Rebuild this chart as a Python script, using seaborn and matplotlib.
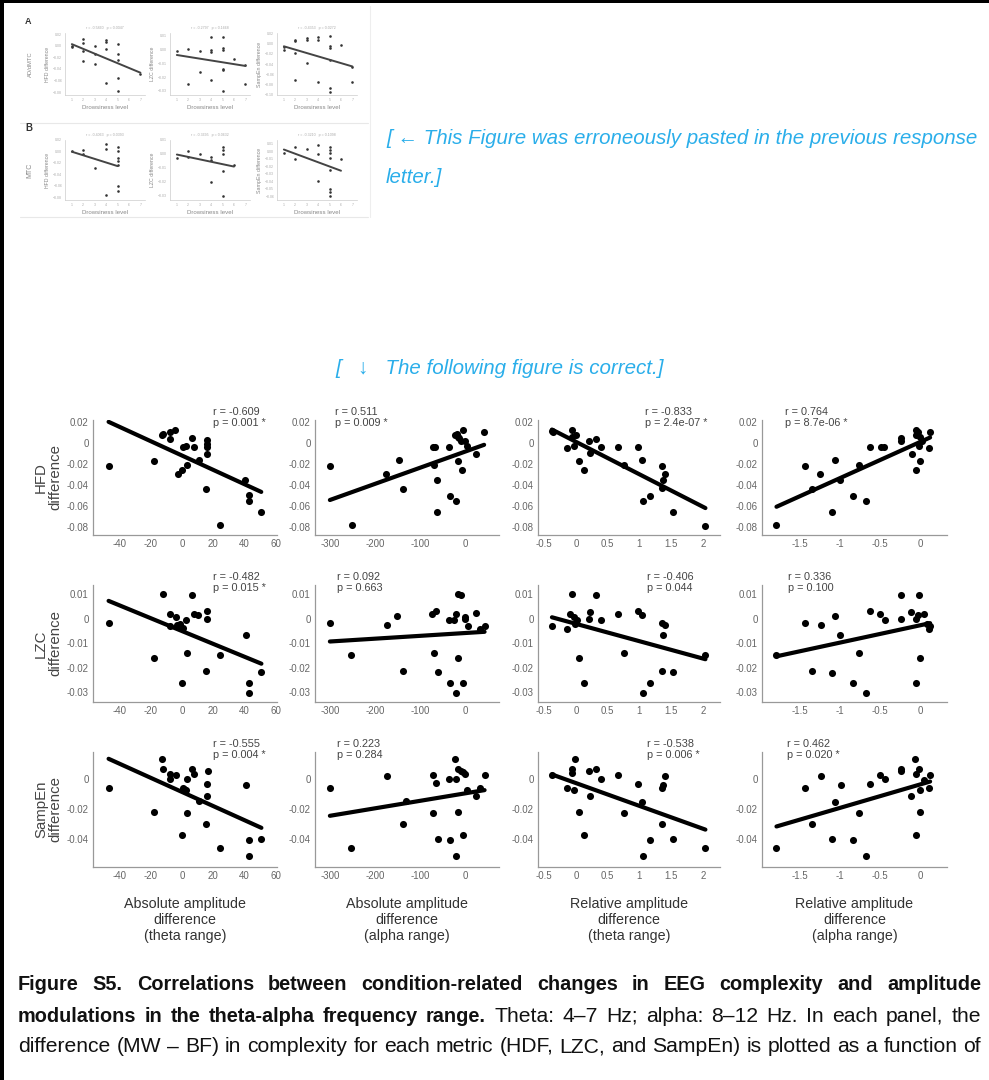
import matplotlib
matplotlib.use('Agg')
import matplotlib.pyplot as plt
import seaborn as sns
from matplotlib import font_manager
from matplotlib.patches import Rectangle
from matplotlib.lines import Line2D

# ---- data: main figure (rows = complexity metric, cols = amplitude predictor) ----
hfd_abs_theta_x = [-47, -18, -12.8, -11.8, -7.9, -4.3, -7.5, -2.6, 0, 1, 2.4, 3.2, 6.6, 7.7, 10.7, 16, 16.3, 16, 16, 15.6, 24.2, 40.6, 43, 43, 50.9]
hfd_abs_theta_y = [-0.0216, -0.0175, 0.0079, 0.0086, 0.0102, 0.0124, 0.0038, -0.0295, -0.0263, -0.0041, -0.0029, -0.0206, 0.0044, -0.0035, -0.0159, 0.0029, -0.001, -0.0041, -0.0102, -0.0441, -0.0787, -0.0352, -0.0495, -0.0559, -0.066]
hfd_abs_alpha_x = [-300, -252, -175, -147, -138, -71, -66, -69, -63, -63, -36, -34, -21, -22, -17, -17, -13, -10, -4, -6, -1, 5, 24, 42, -19]
hfd_abs_alpha_y = [-0.0216, -0.0787, -0.0295, -0.0159, -0.0441, -0.0035, -0.0041, -0.0206, -0.0352, -0.0663, -0.0035, -0.0505, -0.0559, 0.0079, -0.0175, 0.006, 0.0045, 0.0022, 0.0124, -0.0263, 0.0016, -0.0029, -0.0102, 0.0102, 0.0086]
hfd_rel_theta_x = [-0.38, -0.36, -0.06, 0, -0.07, -0.15, -0.04, 0.05, 0.12, 0.2, 0.22, 0.32, 0.4, 0.66, 0.75, 0.98, 1.04, 1.05, 1.16, 1.35, 1.4, 1.37, 1.36, 1.53, 2.04]
hfd_rel_theta_y = [0.0111, 0.0102, 0.0124, 0.0079, 0.0054, -0.0048, -0.0025, -0.0175, -0.0263, 0.0022, -0.0098, 0.0038, -0.0035, -0.0035, -0.0206, -0.0035, -0.0159, -0.0559, -0.0505, -0.0219, -0.0298, -0.0352, -0.0432, -0.0663, -0.079]
hfd_rel_alpha_x = [-1.79, -1.44, -1.25, -1.35, -1.06, -1.1, -1.0, -0.84, -0.76, -0.68, -0.63, -0.49, -0.45, -0.24, -0.24, -0.1, -0.06, -0.05, -0.06, -0.03, -0.01, 0.0, -0.02, 0.02, 0.1, 0.12]
hfd_rel_alpha_y = [-0.0787, -0.0219, -0.0298, -0.0441, -0.0159, -0.0663, -0.0352, -0.0505, -0.0206, -0.0559, -0.0041, -0.0035, -0.0035, 0.0044, 0.0022, -0.0102, -0.0263, 0.0124, 0.0079, 0.0102, 0.006, -0.0175, -0.0029, 0.0022, -0.0048, 0.0102]

lzc_abs_theta_x = [-47, -18, -12.2, -7.5, -7.9, -4, -3.2, 0, 0.6, 2.8, 3.2, 6.6, 7.5, 10.3, 16, 16.3, 15.7, 24.2, 40.8, 43, 43, 51, -1]
lzc_abs_theta_y = [-0.0019, -0.0161, 0.01, 0.0017, -0.003, 0.0007, -0.0028, -0.0261, -0.0039, -0.0007, -0.0139, 0.0097, 0.0017, 0.0014, 0.003, 0.0, -0.0212, -0.0148, -0.0066, -0.0261, -0.0305, -0.0219, -0.0021]
lzc_abs_alpha_x = [-300, -253, -173, -152, -137, -74, -65, -70, -61, -35, -33, -24, -20, -16, -10, -16, -20, -5, -1.5, 6, 25, 32, 43, -1.5]
lzc_abs_alpha_y = [-0.0019, -0.015, -0.0025, 0.0011, -0.0212, 0.0017, 0.003, -0.0139, -0.0219, -0.0007, -0.0261, -0.0007, 0.0017, 0.01, 0.0097, -0.0161, -0.0305, -0.0261, 0.0007, -0.003, 0.0024, -0.0044, -0.003, 0.0]
lzc_rel_theta_x = [-0.38, -0.15, -0.06, -0.09, -0.04, -0.01, 0.02, 0.05, 0.12, 0.2, 0.22, 0.32, 0.4, 0.66, 0.75, 0.98, 1.04, 1.05, 1.16, 1.35, 1.4, 1.37, 1.36, 1.53, 2.04]
lzc_rel_theta_y = [-0.003, -0.0044, 0.01, 0.0017, 0.0007, -0.0021, -0.0007, -0.0161, -0.0261, 0.0, 0.0025, 0.0097, -0.0007, 0.0017, -0.0139, 0.0033, 0.0014, -0.0305, -0.0261, -0.0019, -0.0025, -0.0066, -0.0212, -0.0219, -0.015]
lzc_rel_alpha_x = [-1.79, -1.44, -1.35, -1.24, -1.06, -1.1, -1.0, -0.84, -0.77, -0.68, -0.63, -0.5, -0.44, -0.24, -0.24, -0.12, -0.06, -0.02, -0.06, -0.03, -0.01, 0.04, 0.1, 0.12, 0.08]
lzc_rel_alpha_y = [-0.015, -0.0019, -0.0215, -0.0025, 0.0011, -0.0222, -0.0066, -0.0261, -0.0139, -0.0305, 0.0033, 0.0017, -0.0007, 0.0097, 0.0, 0.0025, -0.0261, 0.0097, 0.0, 0.0014, -0.0161, 0.0017, -0.0044, -0.003, -0.0021]

se_abs_theta_x = [-47, -18, -12.9, -11.8, -7.9, -7.5, -4, 0, 0.6, 2.4, 3.2, 3.2, 6.6, 7.7, 10.7, 16.7, 16.3, 16, 15.6, 24.2, 40.8, 43, 43, 51, 1.5]
se_abs_theta_y = [-0.0058, -0.0219, 0.013, 0.0067, 0.0034, 0.0, 0.0029, -0.0378, -0.006, -0.0076, 0.0, -0.0228, 0.0067, 0.0034, -0.015, 0.0056, -0.0031, -0.0112, -0.0302, -0.0463, -0.0038, -0.0411, -0.0518, -0.04, -0.0065]
se_abs_alpha_x = [-300, -253, -173, -137, -131, -71, -65, -71, -61, -35, -33, -22, -20, -16, -16, -20, -10, -5, -1.5, -5, 4.5, 25, 32, 43]
se_abs_alpha_y = [-0.0058, -0.0463, 0.0022, -0.0302, -0.015, 0.0027, -0.0027, -0.0228, -0.04, 0.0, -0.0411, 0.013, -0.0004, 0.0067, -0.0219, -0.0518, 0.0056, 0.0045, 0.0034, -0.0378, -0.0076, -0.0112, -0.006, 0.0029]
se_rel_theta_x = [-0.38, -0.15, -0.06, -0.06, -0.01, -0.04, 0.05, 0.12, 0.2, 0.22, 0.32, 0.4, 0.66, 0.75, 0.98, 1.04, 1.05, 1.16, 1.35, 1.36, 1.37, 1.4, 1.53, 2.04]
se_rel_theta_y = [0.0029, -0.006, 0.0067, 0.004, 0.013, -0.0076, -0.0219, -0.0378, 0.0056, -0.0112, 0.0067, 0.0, 0.0029, -0.0228, -0.0031, -0.0156, -0.0518, -0.0411, -0.0302, -0.006, -0.0042, 0.0022, -0.04, -0.0463]
se_rel_alpha_x = [-1.79, -1.44, -1.35, -1.24, -1.06, -1.1, -0.99, -0.84, -0.77, -0.68, -0.63, -0.5, -0.44, -0.24, -0.24, -0.12, -0.07, -0.06, -0.06, -0.02, -0.01, -0.01, 0.04, 0.12, 0.1]
se_rel_alpha_y = [-0.0463, -0.0058, -0.0302, 0.0022, -0.0156, -0.04, -0.004, -0.0411, -0.0228, -0.0518, -0.0031, 0.0029, 0.0, 0.0067, 0.0056, -0.0112, 0.013, -0.0378, 0.0036, 0.0067, -0.0219, -0.0076, -0.001, 0.0029, -0.006]

row_labels = ['HFD\ndifference', 'LZC\ndifference', 'SampEn\ndifference']
col_labels = ['Absolute amplitude\ndifference\n(theta range)', 'Absolute amplitude\ndifference\n(alpha range)',
              'Relative amplitude\ndifference\n(theta range)', 'Relative amplitude\ndifference\n(alpha range)']
stats = [
    [('r = -0.609', 'p = 0.001 *'), ('r = 0.511', 'p = 0.009 *'), ('r = -0.833', 'p = 2.4e-07 *'), ('r = 0.764', 'p = 8.7e-06 *')],
    [('r = -0.482', 'p = 0.015 *'), ('r = 0.092', 'p = 0.663'), ('r = -0.406', 'p = 0.044'), ('r = 0.336', 'p = 0.100')],
    [('r = -0.555', 'p = 0.004 *'), ('r = 0.223', 'p = 0.284'), ('r = -0.538', 'p = 0.006 *'), ('r = 0.462', 'p = 0.020 *')],
]
col_xticks = [[-40, -20, 0, 20, 40, 60], [-300, -200, -100, 0], [-0.5, 0, 0.5, 1, 1.5, 2], [-1.5, -1, -0.5, 0]]
row_yticks = [[0.02, 0, -0.02, -0.04, -0.06, -0.08], [0.01, 0, -0.01, -0.02, -0.03], [0, -0.02, -0.04]]

panels = [
    [(hfd_abs_theta_x, hfd_abs_theta_y), (hfd_abs_alpha_x, hfd_abs_alpha_y), (hfd_rel_theta_x, hfd_rel_theta_y), (hfd_rel_alpha_x, hfd_rel_alpha_y)],
    [(lzc_abs_theta_x, lzc_abs_theta_y), (lzc_abs_alpha_x, lzc_abs_alpha_y), (lzc_rel_theta_x, lzc_rel_theta_y), (lzc_rel_alpha_x, lzc_rel_alpha_y)],
    [(se_abs_theta_x, se_abs_theta_y), (se_abs_alpha_x, se_abs_alpha_y), (se_rel_theta_x, se_rel_theta_y), (se_rel_alpha_x, se_rel_alpha_y)],
]

# ---- data: the small (wrongly pasted) figure, drowsiness level vs difference ----
drowsy_a1 = [1, 1, 2, 2, 2, 2, 3, 3, 3, 4, 4, 4, 4, 5, 5, 5, 5, 5, 7]
hfd_a1 = [0.0, -0.003, 0.012, 0.004, -0.009, -0.027, 0.0, -0.015, -0.031, 0.01, 0.006, -0.005, -0.065, 0.003, -0.015, -0.024, -0.056, -0.078, -0.049]
drowsy_a2 = [1, 2, 2, 3, 3, 4, 4, 4, 4, 5, 5, 5, 5, 5, 5, 6, 7, 7]
lzc_a2 = [-0.001, 0.0005, -0.025, -0.001, -0.016, 0.009, 0.0, -0.002, -0.022, 0.009, 0.001, 0.0, -0.014, -0.015, -0.03, -0.007, -0.011, -0.025]
drowsy_a3 = [1, 1, 2, 2, 2, 2, 3, 3, 3, 4, 4, 4, 5, 5, 5, 5, 5, 5, 6, 7, 7]
se_a3 = [-0.007, -0.012, 0.007, 0.004, -0.018, -0.071, 0.011, 0.007, -0.039, 0.012, 0.007, -0.075, 0.014, -0.005, -0.009, -0.032, -0.086, -0.095, -0.004, -0.045, -0.075]
drowsy_b1 = [1, 2, 2, 3, 4, 4, 4, 5, 5, 5, 5, 5, 5, 5]
hfd_b1 = [0.0, 0.002, -0.005, -0.029, 0.013, 0.004, -0.077, 0.007, 0.001, -0.011, -0.017, -0.023, -0.06, -0.07]
drowsy_b2 = [1, 2, 2, 3, 4, 4, 4, 5, 5, 5, 5, 5, 6]
lzc_b2 = [-0.003, 0.002, -0.002, 0.0, -0.002, -0.004, -0.02, 0.005, 0.003, 0.0, -0.012, -0.03, -0.008]
drowsy_b3 = [1, 2, 2, 3, 4, 4, 4, 5, 5, 5, 5, 5, 5, 5, 5, 6]
se_b3 = [-0.003, 0.005, -0.01, 0.003, 0.008, -0.004, -0.04, 0.005, 0.002, -0.003, -0.009, -0.025, -0.05, -0.055, -0.06, -0.01]
small_ylabels = ['HFD difference', 'LZC difference', 'SampEn difference']
small_stats = ['r = -0.5860   p = 0.0047', 'r = -0.2797   p = 0.1668', 'r = -0.4353   p = 0.0272',
               'r = -0.4063   p = 0.0393', 'r = -0.3695   p = 0.0632', 'r = -0.3210   p = 0.1098']

sns.set_theme(style='white')
plt.rcParams['font.family'] = ['Liberation Sans', 'DejaVu Sans']

names = {f.name for f in font_manager.fontManager.ttflist}
narrow = 'Liberation Sans Narrow' in names
cap_family = ['Liberation Sans Narrow', 'Liberation Sans'] if narrow else ['Liberation Sans']

W, H = 989, 1080
fig = plt.figure(figsize=(W / 100, H / 100), dpi=100)


def rect(l, t, r, b):
    return [l / W, 1 - b / H, (r - l) / W, (b - t) / H]


# page frame
fig.add_artist(Rectangle((0, 0), 4 / W, 1, transform=fig.transFigure, color='black', lw=0))
fig.add_artist(Rectangle((0, 1 - 3 / H), 1, 3 / H, transform=fig.transFigure, color='black', lw=0))
for y in (123, 217):
    fig.add_artist(Line2D([20 / W, 368 / W], [1 - y / H] * 2, color='#e8e8e8', lw=0.8))
fig.add_artist(Line2D([370 / W] * 2, [1 - 6 / H, 1 - 217 / H], color='#eeeeee', lw=0.8))

# ---- small figure ----
small = [
    (drowsy_a1, hfd_a1, (-0.085, 0.022)), (drowsy_a2, lzc_a2, (-0.033, 0.012)), (drowsy_a3, se_a3, (-0.1, 0.02)),
    (drowsy_b1, hfd_b1, (-0.085, 0.02)), (drowsy_b2, lzc_b2, (-0.033, 0.01)), (drowsy_b3, se_b3, (-0.065, 0.015)),
]
small_cols = [(65, 145), (170, 250), (277, 357)]
small_rows = [(33, 95), (140, 200)]
for i, (xs, ys, ylim) in enumerate(small):
    r, c = divmod(i, 3)
    ax = fig.add_axes(rect(small_cols[c][0], small_rows[r][0], small_cols[c][1], small_rows[r][1]))
    sns.regplot(x=xs, y=ys, ax=ax, ci=None, color='#333333',
                scatter_kws=dict(s=3.5, linewidths=0, alpha=1), line_kws=dict(lw=1.4, color='#444444'))
    ax.set_xlim(0.4, 7.4)
    ax.set_ylim(*ylim)
    ax.set_xticks(range(1, 8))
    ax.tick_params(labelsize=2.5, labelcolor='#aaaaaa', length=1, width=0.3, pad=1)
    sns.despine(ax=ax)
    for s in ('left', 'bottom'):
        ax.spines[s].set_color('#cccccc')
        ax.spines[s].set_linewidth(0.5)
    ax.set_xlabel('Drowsiness level', fontsize=4.4, color='#888888', labelpad=2)
    ax.set_ylabel(small_ylabels[c], fontsize=3.8, color='#888888', labelpad=2)
    ax.text(0.5, 1.06, small_stats[i], transform=ax.transAxes, fontsize=2.6, color='#aaaaaa', ha='center')
fig.text(25 / W, 1 - 22 / H, 'A', fontsize=6.5, fontweight='bold', color='#333333', va='center')
fig.text(25 / W, 1 - 128 / H, 'B', fontsize=7, fontweight='bold', color='#333333', va='center')
fig.text(30 / W, 1 - 64 / H, 'AD/dMTC', fontsize=4.2, color='#888888', rotation=90, ha='center', va='center')
fig.text(30 / W, 1 - 170 / H, 'MTC', fontsize=5, color='#888888', rotation=90, ha='center', va='center')

# ---- blue notes ----
blue = '#2aaeea'
fig.text(386 / W, 1 - 138 / H, '[ \u2190 This Figure was erroneously pasted in the previous response',
         fontsize=14.8, style='italic', color=blue, va='center')
fig.text(386 / W, 1 - 178 / H, 'letter.]', fontsize=14.8, style='italic', color=blue, va='center')
fig.text(335 / W, 1 - 369 / H, '[   \u2193   The following figure is correct.]', fontsize=14.8, style='italic',
         color=blue, va='center')

# ---- main grid ----
col_px = [(93, 277), (315, 499), (538, 720), (762, 947)]
row_px = [(420, 535), (585, 702), (752, 867)]
col_xlim = [(-57, 61), (-333, 75), (-0.6, 2.27), (-1.97, 0.33)]
row_ylim = [(-0.088, 0.022), (-0.034, 0.0137), (-0.059, 0.018)]
stat_x = [[0.652, 0.109, 0.59, 0.124], [0.652, 0.12, 0.60, 0.14], [0.652, 0.12, 0.60, 0.135]]

for r in range(3):
    for c in range(4):
        xs, ys = panels[r][c]
        ax = fig.add_axes(rect(col_px[c][0], row_px[r][0], col_px[c][1], row_px[r][1]))
        sns.regplot(x=xs, y=ys, ax=ax, ci=None, color='black',
                    scatter_kws=dict(s=26, linewidths=0, alpha=1), line_kws=dict(lw=3, color='black'))
        ax.set_xlim(*col_xlim[c])
        ax.set_ylim(*row_ylim[r])
        ax.set_xticks(col_xticks[c])
        ax.set_xticklabels([f'{v:g}' for v in col_xticks[c]])
        ax.set_yticks(row_yticks[r])
        ax.set_yticklabels([f'{v:g}' for v in row_yticks[r]])
        ax.tick_params(direction='in', length=2.5, width=0.6, color='#888888',
                       labelsize=7, labelcolor='#666666', pad=3)
        sns.despine(ax=ax)
        for s in ('left', 'bottom'):
            ax.spines[s].set_color('#999999')
            ax.spines[s].set_linewidth(0.9)
        rtxt, ptxt = stats[r][c]
        ax.text(stat_x[r][c], 0.93, rtxt + '\n' + ptxt, transform=ax.transAxes, fontsize=7.8,
                color='#444444', ha='left', va='bottom', linespacing=1.1)
        if c == 0:
            ax.text(-0.245, 0.5, row_labels[r], transform=ax.transAxes, rotation=90, fontsize=10.8,
                    color='#444444', ha='center', va='center', multialignment='center', linespacing=1.0)
        if r == 2:
            ax.text(0.5, (867 - 920) / 115, col_labels[c], transform=ax.transAxes, fontsize=10.3,
                    color='#333333', ha='center', va='center', linespacing=1.15)

# ---- caption, justified like the document ----
cap_lines = [
    [('Figure S5. Correlations between condition-related changes in EEG complexity and amplitude', 'bold')],
    [('modulations in the theta-alpha frequency range.', 'bold'),
     ('Theta: 4\u20137 Hz; alpha: 8\u201312 Hz. In each panel, the', 'normal')],
    [('difference (MW \u2013 BF) in complexity for each metric (HDF, LZC, and SampEn) is plotted as a function of', 'normal')],
]
cap_y = [985, 1016, 1047]
cap_size = {'bold': 14.3, 'normal': 15.2}
if narrow:
    cap_size = {'bold': 15.5, 'normal': 15.5}
x0, x1 = 18, 981
renderer = fig.canvas.get_renderer()
for parts, ypx in zip(cap_lines, cap_y):
    words = [(w, wt) for text, wt in parts for w in text.split()]
    arts = [fig.text(0, 1 - ypx / H, w, fontsize=cap_size[wt], fontweight=wt, family=cap_family,
                     color='#111111', va='center') for w, wt in words]
    widths = [a.get_window_extent(renderer).width for a in arts]
    gap = (x1 - x0 - sum(widths)) / (len(arts) - 1)
    x = x0
    for a, wd in zip(arts, widths):
        a.set_x(x / W)
        x += wd + gap

fig.savefig('out.png', dpi=100)
